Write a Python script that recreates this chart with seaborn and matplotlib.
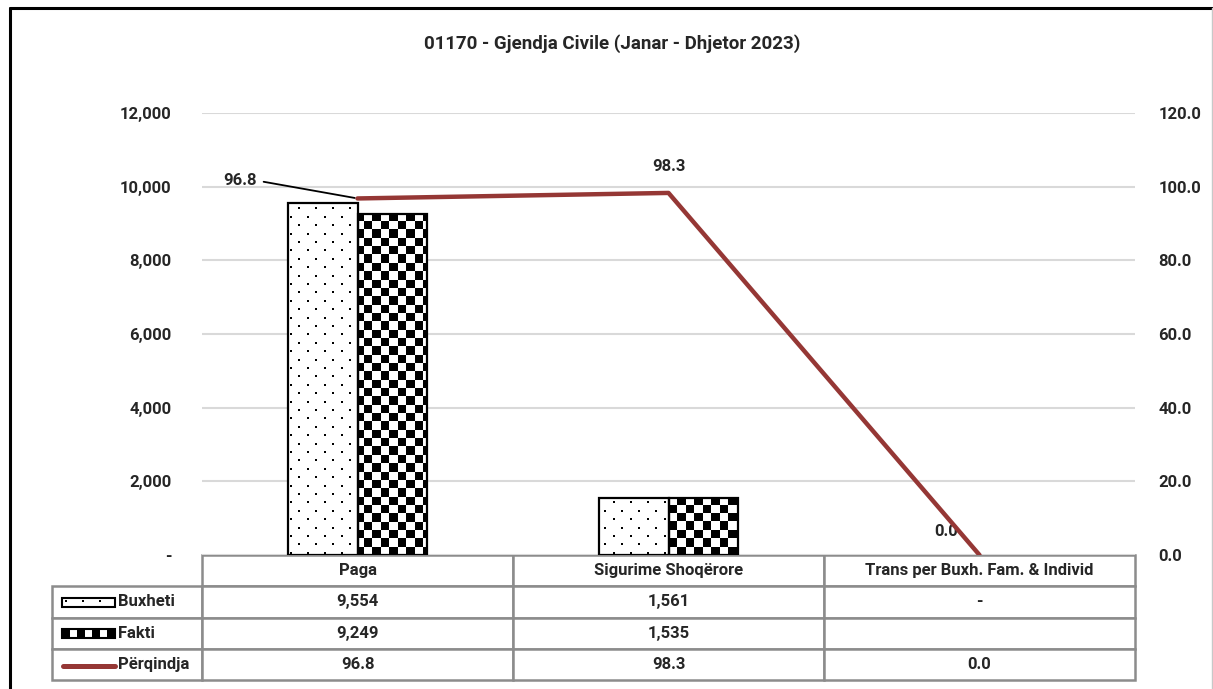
import numpy as np
import pandas as pd
import matplotlib
matplotlib.use("Agg")
import matplotlib.pyplot as plt
import seaborn as sns
from matplotlib.patches import Rectangle
from matplotlib.lines import Line2D

# ---------------- data ----------------
categories = ["Paga", "Sigurime Shoqërore", "Trans per Buxh. Fam. & Individ"]
buxheti = [9554, 1561, 0]
fakti = [9249, 1535, np.nan]
perqindja = [96.8, 98.3, 0.0]
buxheti_text = ["9,554", "1,561", "-"]
fakti_text = ["9,249", "1,535", ""]
perq_text = ["96.8", "98.3", "0.0"]
series_names = ["Buxheti", "Fakti", "Përqindja"]
title = "01170 - Gjendja Civile (Janar - Dhjetor 2023)"
left_ticks = [0, 2000, 4000, 6000, 8000, 10000, 12000]
right_ticks = [0, 20, 40, 60, 80, 100, 120]

sns.set_theme(style="white")
plt.rcParams["font.family"] = ["Roboto", "DejaVu Sans"]
plt.rcParams["font.weight"] = "bold"
FS = 12

W, H = 1213, 689
fig = plt.figure(figsize=(W / 100, H / 100), dpi=100)
fig.patch.set_facecolor("white")
ax_l, ax_r, ax_t, ax_b = 202, 1135, 113, 555
ax = fig.add_axes([ax_l / W, 1 - ax_b / H, (ax_r - ax_l) / W, (ax_b - ax_t) / H])
ax.set_facecolor("none")

df = pd.DataFrame({
    "cat": categories * 2,
    "series": [series_names[0]] * 3 + [series_names[1]] * 3,
    "value": buxheti + fakti,
})
sns.barplot(data=df, x="cat", y="value", hue="series", width=0.45,
            palette=["white", "white"], edgecolor="black", linewidth=1.6,
            legend=False, ax=ax, zorder=3, saturation=1)

# patterns
axw, axh = ax_r - ax_l, ax_b - ax_t
dots = np.ones((axh, axw))
row = 0
y = 2.0
while y < axh:
    off = 0 if row % 2 == 0 else 8
    for x in range(off + 3, axw, 17):
        yi = int(round(y))
        dots[yi:yi + 2, x:x + 2] = 0
    y += 8.4
    row += 1
cell = 8.5
nr, nc = int(axh / cell) + 1, int(axw / cell) + 1
checker = (np.add.outer(np.arange(nr), np.arange(nc)) % 2).astype(float)

patches = list(ax.patches)
nb = len(categories)
for i, p in enumerate(patches):
    p.set_facecolor("none")
    if not np.isfinite(p.get_height()) or p.get_height() == 0:
        p.set_visible(False)
        continue
    img = dots if i < nb else checker
    im = ax.imshow(img, extent=(0, 1, 0, 1), transform=ax.transAxes, cmap="gray",
                   vmin=0, vmax=1, interpolation="nearest", aspect="auto", zorder=2)
    im.set_clip_path(p)

ax.set_xlim(-0.5, len(categories) - 0.5)
ax.set_ylim(0, 12000)
ax.set_yticks(left_ticks)
ax.set_yticklabels(["-" if v == 0 else f"{v:,.0f}" for v in left_ticks],
                   fontsize=FS, fontweight="bold")
ax.tick_params(axis="y", length=0, pad=22)
ax.set_xticks([])
ax.set_xlabel("")
ax.set_ylabel("")
ax.yaxis.grid(True, color="#d9d9d9", linewidth=1.5)
ax.set_axisbelow(True)
for s in ax.spines.values():
    s.set_visible(False)

# line on secondary axis
ax2 = ax.twinx()
xpos = np.arange(len(categories))
sns.lineplot(x=xpos, y=perqindja, ax=ax2, color="#953735", linewidth=3.2,
             zorder=5)
ax2.set_ylim(0, 120)
ax2.set_xlim(-0.5, len(categories) - 0.5)
ax2.set_yticks(right_ticks)
ax2.set_yticklabels([f"{v:.1f}" for v in right_ticks], fontsize=FS, fontweight="bold")
ax2.tick_params(axis="y", length=0, pad=17)
ax2.set_ylabel("")
for s in ax2.spines.values():
    s.set_visible(False)
ax2.grid(False)

offsets = [(-118, 18), (0, 26), (-33, 23)]
for i, (v, t) in enumerate(zip(perqindja, perq_text)):
    if i == 0:
        ax2.annotate(t, xy=(xpos[i], v), xytext=offsets[i], textcoords="offset pixels",
                     ha="center", va="center", fontsize=FS, fontweight="bold",
                     arrowprops=dict(arrowstyle="-", color="black", lw=1.3,
                                     relpos=(1, 0.5), shrinkA=3, shrinkB=2))
    else:
        ax2.annotate(t, xy=(xpos[i], v), xytext=offsets[i], textcoords="offset pixels",
                     ha="center", va="center", fontsize=FS, fontweight="bold")

# data table
tab_left, tab_bottom = 52, 680
cw = [150, 311, 311, 311]
cell_text = [[series_names[0]] + buxheti_text,
             [series_names[1]] + fakti_text,
             [series_names[2]] + perq_text]
tbl = ax.table(cellText=cell_text, colLabels=[""] + categories,
               colWidths=[c / sum(cw) for c in cw], cellLoc="center",
               bbox=[(tab_left - ax_l) / axw, (ax_b - tab_bottom) / axh,
                     (ax_r - tab_left) / axw, (tab_bottom - ax_b) / axh])
tbl.auto_set_font_size(False)
for (r, c), cl in tbl.get_celld().items():
    cl.set_edgecolor("#8c8c8c")
    cl.set_linewidth(1.8)
    cl.get_text().set_fontsize(FS)
    cl.get_text().set_fontweight("bold")
    if r == 0 and c == 0:
        cl.visible_edges = "open"
    if c == 0 and r > 0:
        cl.PAD = 66 / 150
        cl.set_text_props(ha="left")
        cl._loc = "left"


def axc(px, py):
    return (px - ax_l) / axw, (ax_b - py) / axh

# legend keys
x0, y0 = axc(62, 607)
x1, y1 = axc(115, 598)
ax.imshow(dots[:9, :53], extent=(x0, x1, y0, y1), transform=ax.transAxes, cmap="gray",
          vmin=0, vmax=1, interpolation="nearest", aspect="auto", clip_on=False, zorder=6)
ax.add_patch(Rectangle((x0, y0), x1 - x0, y1 - y0, transform=ax.transAxes,
                       facecolor="none", edgecolor="black", lw=1.5, clip_on=False, zorder=7))
x0, y0 = axc(62, 638)
x1, y1 = axc(115, 629)
key = np.array([[0, 1, 0, 1, 0, 1, 0]], dtype=float)
ax.imshow(key, extent=(x0, x1, y0, y1), transform=ax.transAxes, cmap="gray",
          vmin=0, vmax=1, interpolation="nearest", aspect="auto", clip_on=False, zorder=6)
ax.add_patch(Rectangle((x0, y0), x1 - x0, y1 - y0, transform=ax.transAxes,
                       facecolor="none", edgecolor="black", lw=1.5, clip_on=False, zorder=7))
lx0, ly = axc(63, 666)
lx1, _ = axc(115, 666)
ax.add_line(Line2D([lx0, lx1], [ly, ly], transform=ax.transAxes, color="#953735",
                   lw=3.6, solid_capstyle="round", clip_on=False, zorder=7))

ax.set_xlim(-0.5, len(categories) - 0.5)
ax.set_ylim(0, 12000)

fig.text(612 / W, 1 - 44 / H, title, ha="center", va="center", fontsize=13.5,
         fontweight="bold")

# chart border
fig.add_artist(Line2D([10 / W, 1212 / W], [1 - 8 / H, 1 - 8 / H], color="black", lw=2.2))
fig.add_artist(Line2D([10 / W, 10 / W], [0, 1 - 8 / H], color="black", lw=2.2))
fig.add_artist(Line2D([1211.5 / W, 1211.5 / W], [0, 1 - 8 / H], color="#c8c8c8", lw=1))

fig.savefig("out.png", dpi=100, facecolor="white")
